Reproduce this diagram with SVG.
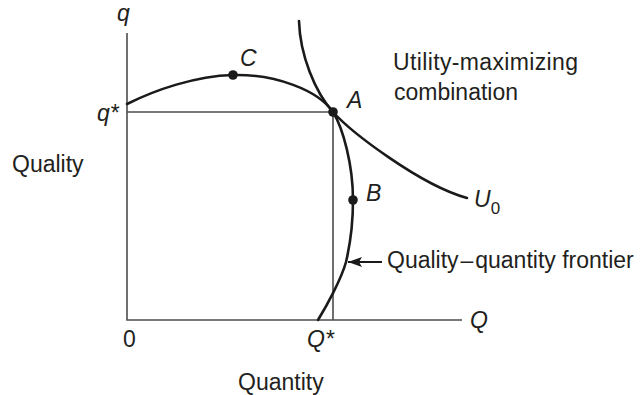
<svg xmlns="http://www.w3.org/2000/svg" width="640" height="395" viewBox="0 0 640 395">
<defs>
<style>
.t{font-family:"Liberation Sans",Arial,Helvetica,sans-serif;font-size:23px;fill:#231f20}
.i{font-style:italic}
.ax{stroke:#4d4d4d;stroke-width:1.6;fill:none}
.cv{stroke:#1a1a1a;stroke-width:2.6;fill:none;stroke-linecap:round}
.dot{fill:#1a1a1a}
</style>
<marker id="ah" viewBox="0 0 14 10" refX="14" refY="5" markerWidth="14" markerHeight="10" markerUnits="userSpaceOnUse" orient="auto">
<path d="M0,0 L14,5 L0,10 L3,5 Z" fill="#1a1a1a"/>
</marker>
</defs>
<rect width="640" height="395" fill="#fff"/>
<g id="axes">
<path class="ax" d="M127,33 V320 H462"/>
<path class="ax" d="M127,112 H333 V320"/>
</g>
<g id="connectors">
<path id="frontier" class="cv" d="M127,104 C155,90 195,76 233,75 C275,74 318,90 333,112 C343,128 353,165 353,200 C353,225 350,245 346,262 C341,280 326,307 318,320"/>
<path id="u0" class="cv" d="M299,21 C300,55 315,92 333,112 C351,132 420,185 467,198"/>
<line x1="382" y1="262" x2="348" y2="262" stroke="#1a1a1a" stroke-width="1.8" marker-end="url(#ah)"/>
</g>
<g id="point-C"><circle class="dot" cx="233" cy="75" r="4.8"/><text class="t i" x="240" y="66">C</text></g>
<g id="point-A"><circle class="dot" cx="333" cy="112" r="4.8"/><text class="t i" x="347" y="108">A</text></g>
<g id="point-B"><circle class="dot" cx="353" cy="200" r="4.8"/><text class="t i" x="366" y="201">B</text></g>
<g id="labels">
<text class="t i" x="117" y="21">q</text>
<text class="t i" x="97" y="121">q*</text>
<text class="t" x="12" y="172">Quality</text>
<text class="t i" x="474" y="207">U<tspan font-style="normal" font-size="17" dy="7">0</tspan></text>
<text class="t" x="393" y="70" textLength="185">Utility-maximizing</text>
<text class="t" x="394" y="100">combination</text>
<text class="t" x="387" y="268">Quality&#8202;–&#8202;quantity frontier</text>
<text class="t" x="123" y="347">0</text>
<text class="t i" x="307" y="347">Q*</text>
<text class="t i" x="470" y="328">Q</text>
<text class="t" x="238" y="390">Quantity</text>
</g>
</svg>
